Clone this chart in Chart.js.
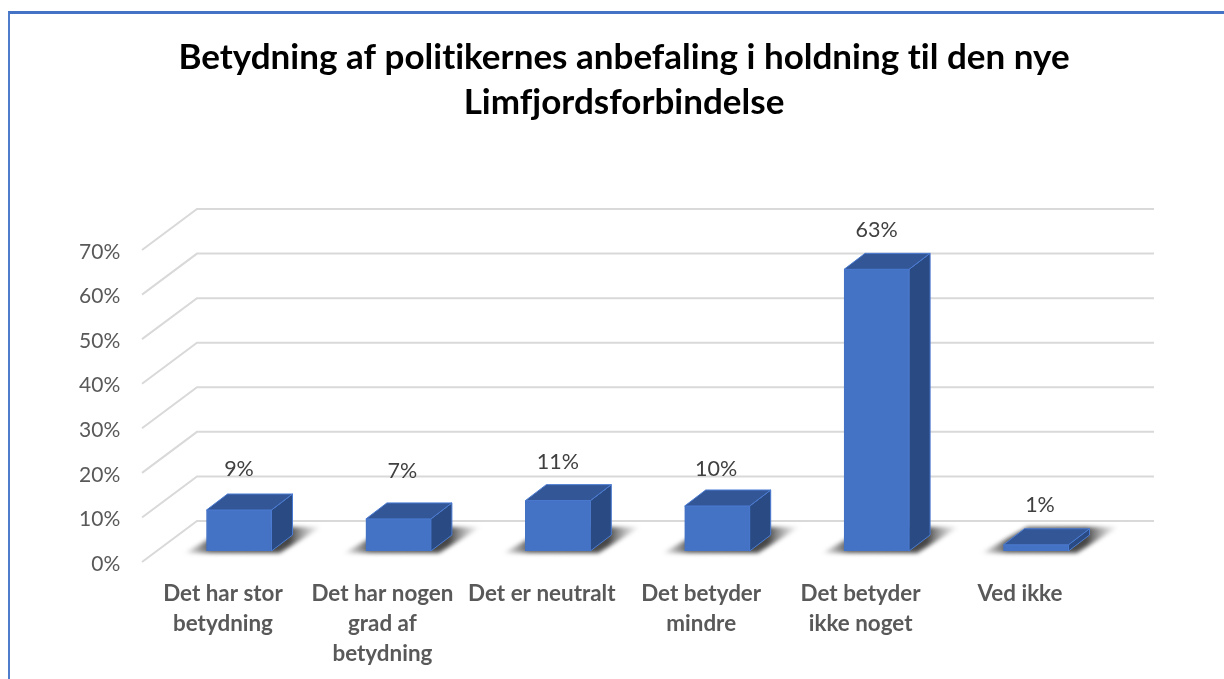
<!DOCTYPE html>
<html>
<head>
<meta charset="utf-8">
<title>Limfjordsforbindelse</title>
<script src="https://cdn.jsdelivr.net/npm/chart.js@4"></script>
<style>
    html, body { margin: 0; padding: 0; background: #fff; overflow: hidden; width: 1224px; height: 679px; }
    #ramme { position: absolute; left: 8px; top: 11px; width: 1300px; height: 800px; border-left: 2px solid #4f7ccb; border-top: 3px solid #4472c4; }
    #graf { position: absolute; left: 0; top: 0; }
</style>
</head>
<body>
<div id="ramme"></div>
<canvas id="graf" width="1224" height="679"></canvas>
<script>
const titleLines = ['Betydning af politikernes anbefaling i holdning til den nye', 'Limfjordsforbindelse'];
const categories = [
    ['Det har stor', 'betydning'],
    ['Det har nogen', 'grad af', 'betydning'],
    ['Det er neutralt'],
    ['Det betyder', 'mindre'],
    ['Det betyder', 'ikke noget'],
    ['Ved ikke']
];
const values = [9.2, 7.2, 11.3, 10.1, 63.2, 1.4];
const valueLabels = ['9%', '7%', '11%', '10%', '63%', '1%'];

// 3D look: offsets of the fake depth, in pixels
const depthX = 21, depthY = 16;
const wallX = 55, wallUp = 30, floorDown = 11;
const labelNudgeX = [0, 4, 0, -1, 0, 4];
const labelNudgeY = [-2, -9, 0, 2, 0, -1];

const plugin3d = {
    id: 'plugin3d',
    afterLayout(chart) {
        // the title is centred on x=624 in the reference, not on the plot
        chart.titleBlock.left = 0;
        chart.titleBlock.right = 1248;
    },
    beforeDraw(chart) {
        // keeps Lato from joining "ti" and "fj"
        chart.ctx.letterSpacing = '0.01px';
    },
    beforeDatasetsDraw(chart) {
        const { ctx, scales } = chart;
        const y = scales.y;
        // grid: front edge, then along the back wall
        ctx.save();
        ctx.strokeStyle = '#d9d9d9';
        ctx.lineWidth = 2;
        y.ticks.forEach(t => {
            const py = y.getPixelForValue(t.value);
            ctx.beginPath();
            ctx.moveTo(142, py + floorDown);
            ctx.lineTo(142 + wallX, py - wallUp);
            ctx.lineTo(1154, py - wallUp);
            ctx.stroke();
        });
        ctx.restore();
        // shadow on the floor
        chart.getDatasetMeta(0).data.forEach(bar => {
            const l = bar.x - bar.width / 2, r = bar.x + bar.width / 2, b = bar.base;
            const g = ctx.createLinearGradient(l - 24, 0, r + 52, 0);
            g.addColorStop(0, 'rgba(90,90,90,0)');
            g.addColorStop(0.2, 'rgba(70,70,70,0.9)');
            g.addColorStop(0.76, 'rgba(60,60,60,0.95)');
            g.addColorStop(1, 'rgba(170,170,170,0)');
            ctx.save();
            ctx.filter = 'blur(2px)';
            ctx.fillStyle = g;
            ctx.beginPath();
            ctx.moveTo(l - 22, b + 2);
            ctx.lineTo(r + 8, b + 2);
            ctx.lineTo(r + 50, b - 24);
            ctx.lineTo(l + 24, b - 24);
            ctx.closePath();
            ctx.fill();
            ctx.restore();
        });
    },
    afterDatasetsDraw(chart) {
        const { ctx } = chart;
        chart.getDatasetMeta(0).data.forEach((bar, i) => {
            const l = bar.x - bar.width / 2, r = bar.x + bar.width / 2, t = bar.y, b = bar.base;
            ctx.save();
            ctx.lineWidth = 1;
            ctx.strokeStyle = '#4a7bd2';
            ctx.lineJoin = 'round';
            // right side
            ctx.fillStyle = '#294a82';
            ctx.beginPath();
            ctx.moveTo(r, t);
            ctx.lineTo(r + depthX, t - depthY);
            ctx.lineTo(r + depthX, b - depthY);
            ctx.lineTo(r, b);
            ctx.closePath();
            ctx.fill();
            ctx.stroke();
            // top
            ctx.fillStyle = '#335696';
            ctx.beginPath();
            ctx.moveTo(l, t);
            ctx.lineTo(l + depthX, t - depthY);
            ctx.lineTo(r + depthX, t - depthY);
            ctx.lineTo(r, t);
            ctx.closePath();
            ctx.fill();
            ctx.stroke();
            // value label
            ctx.fillStyle = '#404040';
            ctx.font = '21.5px Lato';
            ctx.textAlign = 'center';
            ctx.textBaseline = 'middle';
            ctx.fillText(valueLabels[i], bar.x + labelNudgeX[i], t - depthY - 23 + labelNudgeY[i]);
            ctx.restore();
        });
    }
};

new Chart(document.getElementById('graf').getContext('2d'), {
    type: 'bar',
    data: {
        labels: categories,
        datasets: [{
            data: values,
            backgroundColor: '#4472c4',
            borderColor: '#4472c4',
            borderWidth: 1,
            categoryPercentage: 1,
            barThickness: 65
        }]
    },
    options: {
        responsive: false,
        animation: false,
        layout: { padding: { left: 0, right: 108.3, top: 0, bottom: 0 } },
        plugins: {
            legend: { display: false },
            tooltip: { enabled: false },
            title: {
                display: true,
                text: titleLines,
                color: '#000000',
                font: { family: 'Lato', size: 35, weight: 'bold', lineHeight: 1.286 },
                padding: { top: 35, bottom: 114 }
            }
        },
        scales: {
            x: {
                grid: { display: false },
                border: { display: false },
                afterFit(s) { s.height = 128; },
                ticks: {
                    autoSkip: false,
                    maxRotation: 0,
                    padding: 20,
                    labelOffset: -16,
                    color: '#595959',
                    font: { family: 'Lato', size: 22.4, weight: 'bold', lineHeight: 1.33 }
                }
            },
            y: {
                min: 0,
                max: 70,
                grid: { display: false },
                border: { display: false },
                afterFit(s) { s.width = 159.3; },
                ticks: {
                    stepSize: 10,
                    padding: 31,
                    labelOffset: 13,
                    color: '#595959',
                    font: { family: 'Lato', size: 21 },
                    callback: v => v + '%'
                }
            }
        }
    },
    plugins: [plugin3d]
});
</script>
</body>
</html>
